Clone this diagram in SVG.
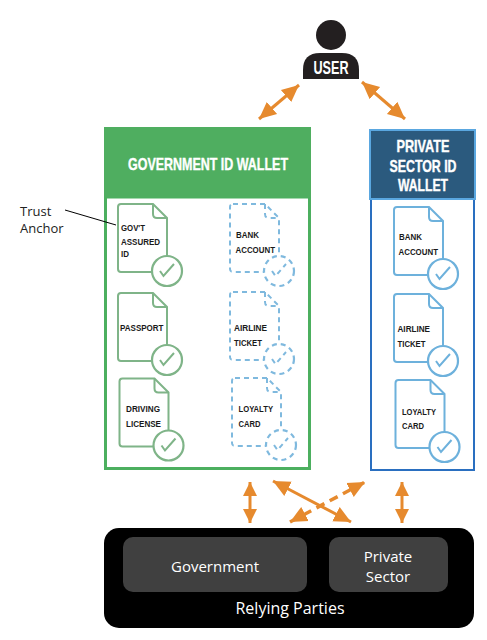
<svg xmlns="http://www.w3.org/2000/svg" xmlns:xlink="http://www.w3.org/1999/xlink" width="487" height="640" viewBox="0 0 487 640">
<style>
.green{stroke:#7fb488}
.blue{stroke:#6db1dc}
.dash{stroke:#7fb9de;stroke-dasharray:5 4}
.doc{fill:#fff;stroke-width:2}
.fold{fill:none;stroke-width:2}
.seal{fill:#fff;stroke-width:2.200}
.tick{fill:none;stroke-width:2}
.lbl{font-family:"Liberation Sans",Arial,sans-serif;font-weight:700;font-size:9.500px;fill:#1a1a1a;stroke:none}
.hd{font-family:"Liberation Sans",Arial,sans-serif;font-weight:700;font-size:17px;fill:#fff;stroke:#fff;stroke-width:.4}
.rp{font-family:"Open Sans",sans-serif;font-size:15px;font-weight:500;fill:#fff;text-anchor:middle}
.ta{font-family:"Open Sans",sans-serif;font-size:13px;fill:#222}
.conn{stroke:#e68a2e;stroke-width:3;fill:none;marker-start:url(#ah);marker-end:url(#ah)}
.diag{marker-start:url(#ahd);marker-end:url(#ahd)}
</style>
<defs>
<marker id="ah" markerUnits="userSpaceOnUse" markerWidth="16" markerHeight="16" refX="14" refY="8" orient="auto-start-reverse"><path d="M0 1L14 8L0 15Z" fill="#e68a2e"/></marker>
<marker id="ahd" markerUnits="userSpaceOnUse" markerWidth="20" markerHeight="20" refX="17" refY="10" orient="auto-start-reverse"><path d="M0 2L17 10L0 18Z" fill="#e68a2e"/></marker>
<g id="doc"><path class="doc" d="M3 0H35L49 14V68H3Q0 68 0 65V3Q0 0 3 0Z"/><path class="fold" d="M35 0V10Q35 14 39 14H49"/><circle class="seal" cx="49" cy="67" r="15"/><path class="tick" d="M42 67L45.500 72L56 60"/></g>
</defs>
<rect width="487" height="640" fill="#fff"/>

<g id="user">
<circle cx="331" cy="35" r="15" fill="#231f20"/>
<path d="M303 79V70Q303 53 320 53H342Q359 53 359 70V79Z" fill="#231f20"/>
<text x="331" y="74" text-anchor="middle" font-family="'Liberation Sans',sans-serif" font-weight="700" font-size="18" fill="#fff" textLength="35" lengthAdjust="spacingAndGlyphs">USER</text>
</g>

<g id="government-wallet">
<rect x="105.500" y="197" width="204" height="271.500" fill="#fff" stroke="#4caf5f" stroke-width="3"/>
<rect x="104" y="127" width="207" height="70" fill="#4fae60"/>
<text class="hd" x="128" y="170" textLength="160" lengthAdjust="spacingAndGlyphs">GOVERNMENT ID WALLET</text>
</g>

<g id="private-wallet">
<rect x="371" y="199" width="103" height="271" fill="#fff" stroke="#2a6fc0" stroke-width="2"/>
<rect x="370" y="130" width="105" height="69" fill="#2b5a7e" stroke="#5aa7e0" stroke-width="2"/>
<text class="hd" x="423" y="152" text-anchor="middle" textLength="53" lengthAdjust="spacingAndGlyphs">PRIVATE</text>
<text class="hd" x="423" y="172" text-anchor="middle" textLength="67" lengthAdjust="spacingAndGlyphs">SECTOR ID</text>
<text class="hd" x="423" y="191" text-anchor="middle" textLength="50" lengthAdjust="spacingAndGlyphs">WALLET</text>
</g>

<g id="doc-govt-id" class="green"><use xlink:href="#doc" href="#doc" x="118" y="204"/>
<text class="lbl" x="121" y="231" textLength="24" lengthAdjust="spacingAndGlyphs">GOV'T</text><text class="lbl" x="121" y="245" textLength="39" lengthAdjust="spacingAndGlyphs">ASSURED</text><text class="lbl" x="121" y="257" textLength="8" lengthAdjust="spacingAndGlyphs">ID</text></g>
<g id="doc-passport" class="green"><use xlink:href="#doc" href="#doc" x="118" y="293"/>
<text class="lbl" x="120" y="331" textLength="43.500" lengthAdjust="spacingAndGlyphs">PASSPORT</text></g>
<g id="doc-driving" class="green"><use xlink:href="#doc" href="#doc" x="119.500" y="378.500"/>
<text class="lbl" x="126" y="412" textLength="34" lengthAdjust="spacingAndGlyphs">DRIVING</text><text class="lbl" x="126" y="427" textLength="35" lengthAdjust="spacingAndGlyphs">LICENSE</text></g>

<g id="doc-gov-bank" class="dash"><use xlink:href="#doc" href="#doc" x="230" y="204"/>
<text class="lbl" x="236" y="238" textLength="23" lengthAdjust="spacingAndGlyphs">BANK</text><text class="lbl" x="235.500" y="253" textLength="39.500" lengthAdjust="spacingAndGlyphs">ACCOUNT</text></g>
<g id="doc-gov-airline" class="dash"><use xlink:href="#doc" href="#doc" x="230" y="292"/>
<text class="lbl" x="234" y="331" textLength="33" lengthAdjust="spacingAndGlyphs">AIRLINE</text><text class="lbl" x="234" y="346" textLength="28" lengthAdjust="spacingAndGlyphs">TICKET</text></g>
<g id="doc-gov-loyalty" class="dash"><use xlink:href="#doc" href="#doc" x="232" y="378"/>
<text class="lbl" x="238.500" y="412" textLength="34.500" lengthAdjust="spacingAndGlyphs">LOYALTY</text><text class="lbl" x="238.500" y="427" textLength="22" lengthAdjust="spacingAndGlyphs">CARD</text></g>

<g id="doc-private-bank" class="blue"><use xlink:href="#doc" href="#doc" x="394" y="207"/>
<text class="lbl" x="399" y="240" textLength="23" lengthAdjust="spacingAndGlyphs">BANK</text><text class="lbl" x="398.500" y="255" textLength="39.500" lengthAdjust="spacingAndGlyphs">ACCOUNT</text></g>
<g id="doc-private-airline" class="blue"><use xlink:href="#doc" href="#doc" x="394" y="294"/>
<text class="lbl" x="397.500" y="332" textLength="32.500" lengthAdjust="spacingAndGlyphs">AIRLINE</text><text class="lbl" x="397.500" y="347" textLength="28" lengthAdjust="spacingAndGlyphs">TICKET</text></g>
<g id="doc-private-loyalty" class="blue"><use xlink:href="#doc" href="#doc" x="395.500" y="380"/>
<text class="lbl" x="402" y="415" textLength="34" lengthAdjust="spacingAndGlyphs">LOYALTY</text><text class="lbl" x="402" y="429" textLength="22" lengthAdjust="spacingAndGlyphs">CARD</text></g>

<g id="trust-anchor">
<text class="ta" x="20" y="216">Trust</text>
<text class="ta" x="20" y="233">Anchor</text>
</g>

<g id="relying-parties">
<rect x="104" y="528" width="370" height="100" rx="15" fill="#000"/>
<text class="rp" x="290" y="614" style="font-size:16px">Relying Parties</text>
</g>
<g id="rp-government">
<rect x="123" y="537" width="184" height="55" rx="10" fill="#404040"/>
<text class="rp" x="215" y="572">Government</text>
</g>
<g id="rp-private">
<rect x="329" y="537" width="119" height="55" rx="10" fill="#404040"/>
<text class="rp" x="388" y="562">Private</text>
<text class="rp" x="388" y="582">Sector</text>
</g>

<g id="connectors">
<path d="M65 210L116 225" stroke="#000" stroke-width="1" fill="none"/>
<path class="conn diag" d="M259 119L299 85"/>
<path class="conn diag" d="M362 82L405 119"/>
<path class="conn" d="M250 482V523"/>
<path class="conn" d="M402 482V523"/>
<path class="conn diag" d="M273 481L351 522"/>
<path class="conn diag" stroke-width="3.500" style="stroke-width:3.500" stroke-dasharray="9 6" d="M290 522L365 482"/>
</g>
</svg>
